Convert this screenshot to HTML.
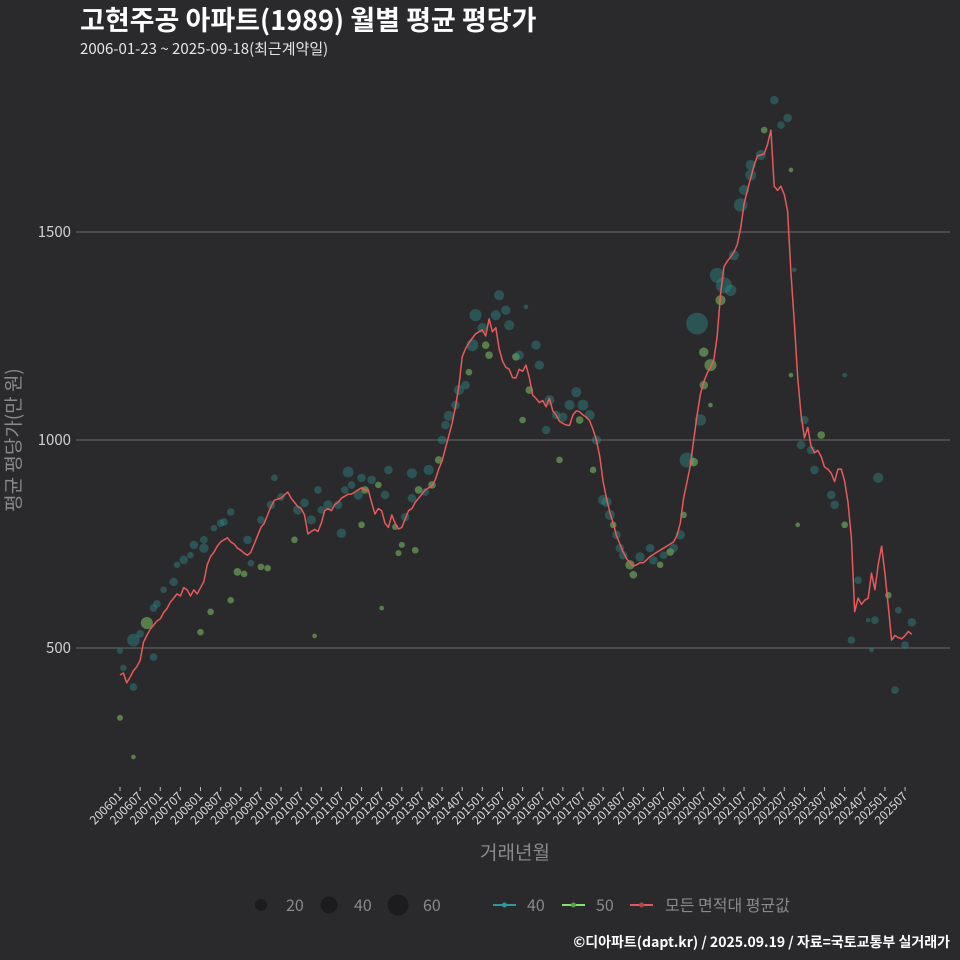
<!DOCTYPE html>
<html><head><meta charset="utf-8"><style>
body{margin:0;background:#2a2a2c;}
svg{display:block;font-family:"Noto Sans CJK KR","Liberation Sans",sans-serif;}
</style></head><body>
<svg id="chart" width="960" height="960" viewBox="0 0 960 960" xmlns="http://www.w3.org/2000/svg">
<rect width="960" height="960" fill="#2a2a2c"/>
<text x="80" y="30" fill="#ffffff" font-size="27" font-weight="bold">고현주공 아파트(1989) 월별 평균 평당가</text>
<text x="80" y="54" fill="#e6e6e6" font-size="15">2006-01-23 ~ 2025-09-18(최근계약일)</text>
<g id="grid"></g>
<g id="points"></g>
<g id="line"></g>
<g id="xaxis"></g>
<text x="20" y="440" fill="#8a8a8a" font-size="19" text-anchor="middle" transform="rotate(-90 20 440)">평균 평당가(만 원)</text>
<text x="515" y="859" fill="#8a8a8a" font-size="19" text-anchor="middle">거래년월</text>
<g>
<circle cx="261" cy="905" r="6" fill="#1c1c1e"/>
<text x="286" y="911" fill="#8a8a8a" font-size="16">20</text>
<circle cx="329" cy="905" r="8.5" fill="#1c1c1e"/>
<text x="354" y="911" fill="#8a8a8a" font-size="16">40</text>
<circle cx="398" cy="905" r="10.5" fill="#1c1c1e"/>
<text x="423" y="911" fill="#8a8a8a" font-size="16">60</text>
</g>
<g>
<line x1="493" y1="905" x2="516" y2="905" stroke="#2a9a9a" stroke-width="2"/>
<circle cx="504.5" cy="905" r="2.5" fill="#2a9a9a"/>
<text x="527" y="911" fill="#8a8a8a" font-size="16">40</text>
<line x1="562" y1="905" x2="585" y2="905" stroke="#86e070" stroke-width="2"/>
<circle cx="573.5" cy="905" r="2.5" fill="#5aa050"/>
<text x="596" y="911" fill="#8a8a8a" font-size="16">50</text>
<line x1="630" y1="905" x2="653" y2="905" stroke="#e05a5a" stroke-width="2"/>
<circle cx="641.5" cy="905" r="2.5" fill="#b04848"/>
<text x="665" y="911" fill="#8a8a8a" font-size="16">모든 면적대 평균값</text>
</g>
<text x="950" y="947" fill="#ffffff" font-size="14" font-weight="bold" text-anchor="end">©디아파트(dapt.kr) / 2025.09.19 / 자료=국토교통부 실거래가</text>
</svg>
<script>
const yTicks = [500, 1000, 1500];
// monthly average (index 0 = 2006-01)
const avgValues = [435,440,416,430,445,455,470,514,530,545,555,565,570,585,595,610,620,630,625,645,640,625,640,630,645,660,700,720,730,745,755,760,765,755,750,740,735,728,723,730,750,770,790,800,820,840,855,858,860,868,875,860,850,840,835,820,774,780,785,780,800,830,835,830,845,850,860,865,870,870,875,880,885,880,880,850,822,835,830,800,790,820,800,786,790,810,830,835,850,860,870,880,885,890,905,930,950,980,1010,1040,1080,1130,1200,1220,1233,1245,1255,1260,1265,1250,1291,1260,1270,1220,1190,1175,1170,1150,1149,1170,1165,1180,1150,1108,1100,1090,1095,1080,1100,1070,1060,1045,1040,1036,1035,1060,1070,1068,1060,1055,1046,1025,1000,960,900,860,827,800,770,750,730,715,705,697,700,705,705,712,720,725,730,735,740,745,750,755,770,800,860,899,940,1000,1060,1110,1140,1160,1175,1192,1250,1350,1416,1430,1440,1452,1470,1510,1567,1600,1630,1660,1683,1685,1688,1710,1745,1610,1600,1610,1590,1550,1400,1280,1150,1060,1005,1030,985,969,975,960,935,930,920,900,930,930,900,850,764,587,620,605,615,620,680,640,700,745,680,600,519,530,525,522,530,540,533];
const ptMonth = [0,4,0,1,4,4,6,8,10,10,11,13,16,17,19,21,22,24,25,25,27,28,30,31,33,33,35,37,38,39,42,42,44,45,46,48,52,53,55,57,58,59,60,62,65,66,67,68,69,71,72,72,73,75,77,79,80,82,78,83,84,85,87,87,88,89,91,92,93,95,96,97,98,100,101,103,104,105,106,108,109,110,112,113,115,116,118,119,120,121,122,124,125,127,128,130,131,132,134,136,137,138,140,141,142,144,145,146,147,148,149,150,152,153,155,158,159,161,162,164,165,167,168,169,171,173,174,172,174,176,176,178,179,180,182,183,185,186,188,188,191,192,195,197,199,200,200,201,202,203,204,206,207,209,212,213,216,216,218,220,223,224,225,226,229,231,232,234,236];
const ptValue = [332,238,493,452,406,519,534,560,478,596,606,640,659,700,712,723,748,538,740,760,587,788,800,803,827,615,683,678,760,704,808,695,692,844,909,863,760,832,849,808,529,880,832,844,844,776,880,923,892,868,796,909,880,904,892,868,928,791,596,728,748,815,860,920,735,880,875,928,892,952,1000,1036,1058,1084,1120,1132,1163,1228,1300,1269,1228,1204,1300,1348,1312,1276,1200,1204,1048,1320,1120,1228,1180,1024,1096,1060,952,1055,1084,1115,1048,1084,1060,928,1000,856,851,820,796,772,740,723,700,676,719,740,711,700,723,731,740,772,820,952,947,1048,1132,1280,1211,1180,1084,1396,1336,1372,1360,1444,1565,1601,1637,1661,1685,1745,1817,1757,1774,1649,1156,1409,796,988,1048,976,928,1012,868,844,1156,796,519,663,567,495,567,909,627,399,591,507,562];
const ptCount = [5,3,5,6,8,22,8,20,8,8,8,6,10,6,10,6,10,6,12,8,6,6,8,8,8,6,8,6,10,6,8,6,6,10,6,8,6,12,10,12,3,8,8,12,10,12,8,16,8,12,6,10,8,10,6,10,10,5,3,5,5,10,10,14,6,8,8,14,8,8,10,10,14,10,14,10,6,20,20,14,8,8,14,14,12,14,8,12,6,3,8,12,12,10,14,10,6,12,14,14,8,16,14,6,12,14,14,14,6,10,10,10,12,8,12,10,10,6,8,8,10,12,6,30,10,18,10,65,12,20,3,30,14,35,18,14,25,14,16,14,14,6,10,8,10,3,3,3,3,10,10,10,10,8,10,10,3,6,8,8,3,3,8,14,6,8,6,8,10];
const ptType = [50,50,40,40,40,40,40,50,40,40,40,40,40,40,40,40,40,50,40,40,50,40,40,40,40,50,50,50,40,40,40,50,50,40,40,40,50,40,40,40,50,40,40,40,40,40,40,40,40,40,50,40,50,40,50,40,40,50,50,50,50,40,40,40,50,50,40,40,50,50,40,40,40,40,40,40,50,40,40,40,50,50,40,40,40,40,50,40,50,40,50,40,40,40,40,40,50,40,40,40,50,40,40,50,40,40,40,40,50,40,40,40,50,50,40,40,40,50,40,50,40,40,50,40,50,40,50,40,50,50,50,40,50,40,40,40,40,40,40,40,40,50,40,40,40,50,50,40,50,40,40,40,40,50,40,40,40,50,40,40,40,40,40,40,50,40,40,40,40];
const xCatStart = 2006;

const NS = "http://www.w3.org/2000/svg";
const X0 = 120, XSTEP = 3.355, Y500 = 648, YSCALE = 0.416;
function xs(m){ return X0 + m * XSTEP; }
function ys(v){ return Y500 - (v - 500) * YSCALE; }
function mk(tag, attrs, parent){ const e = document.createElementNS(NS, tag); for (const k in attrs) e.setAttribute(k, attrs[k]); parent.appendChild(e); return e; }

const grid = document.getElementById('grid');
yTicks.forEach(t => {
  const l = mk('line', {x1: 76, x2: 950, y1: ys(t), y2: ys(t), stroke: '#6a6a6a', 'stroke-width': 1}, grid);
  
  
  const tx = mk('text', {x: 71, y: ys(t) + 5, fill: '#d0d0d0', 'font-size': 15, 'text-anchor': 'end'}, grid);
  tx.textContent = t;
  
  
});

const xa = document.getElementById('xaxis');
for (let m = 0; m <= 234; m += 6) {
  const x = xs(m);
  const t = mk('line', {x1: x, x2: x, y1: 787, y2: 791, stroke: '#bbbbbb', 'stroke-width': 1}, xa);
  
  
  const lbl = (xCatStart + Math.floor(m / 12)) + String(m % 12 + 1).padStart(2, '0');
  const tx = mk('text', {x: x + 3, y: 797, fill: '#d8d8d8', 'font-size': 12, 'text-anchor': 'end', transform: 'rotate(-45 ' + (x + 3) + ' 797)'}, xa);
  tx.textContent = lbl;
  
  
}

const pg = document.getElementById('points');
ptMonth.forEach((m, i) => {
  const is40 = ptType[i] === 40;
  const c = mk('circle', {cx: xs(m), cy: ys(ptValue[i]), r: 1.35 * Math.sqrt(ptCount[i]),
    fill: is40 ? '#2f8f8f' : '#86d46a', 'fill-opacity': is40 ? 0.42 : 0.5}, pg);
  
  
});

const lg = document.getElementById('line');
const d = avgValues.map((v, i) => (i ? 'L' : 'M') + xs(i).toFixed(1) + ',' + ys(v).toFixed(1)).join('');
const p = mk('path', {d: d, fill: 'none', stroke: '#e85a5a', 'stroke-width': 1.5, 'stroke-linejoin': 'round'}, lg);


</script>
</body></html>
